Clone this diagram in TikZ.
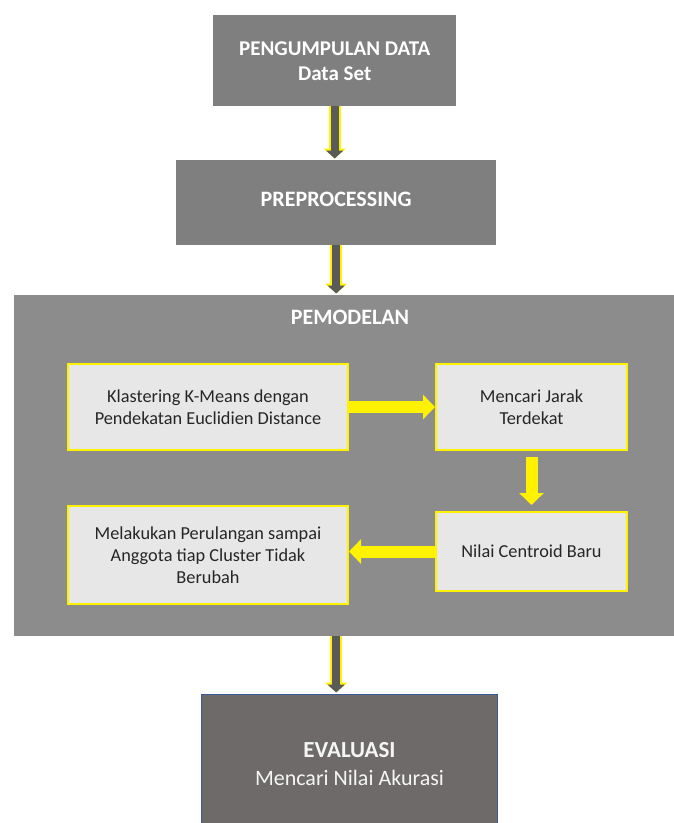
\documentclass[tikz,border=0pt]{standalone}
\usepackage{fontspec}
\setmainfont{Carlito}
\usetikzlibrary{arrows.meta}
\definecolor{stagegray}{HTML}{7F7F7F}
\definecolor{modelgray}{HTML}{8C8C8C}
\definecolor{innerfill}{HTML}{E7E7E7}
\definecolor{edgeyellow}{HTML}{FFF200}
\definecolor{shaftgray}{HTML}{5A5A5A}
\definecolor{evalgray}{HTML}{6E6A6A}
\definecolor{evalblue}{HTML}{3A5A98}
\tikzset{
	stage/.style={fill=stagegray, text=white, align=center, inner sep=0pt,
		anchor=north west, font=\bfseries\fontsize{21}{25}\selectfont},
	inner/.style={fill=innerfill, draw=edgeyellow, line width=2pt, text=black!85,
		align=center, inner sep=0pt, anchor=north west,
		minimum width=280pt, font=\fontsize{18.3}{22}\selectfont},
	flow/.style={draw=edgeyellow, line width=12pt, -{Triangle[length=12pt,width=24pt]}},
	outflow/.style={draw=shaftgray, line width=8pt, shorten >=1.5pt,
		-{Triangle[length=8pt,width=17pt]},
		preaction={draw=edgeyellow, line width=12pt, -{Triangle[length=10pt,width=22pt]}}}
}
\begin{document}
\begin{tikzpicture}[x=1pt,y=-1pt]
	\useasboundingbox (0,0) rectangle (674,823);
	\clip (0,0) rectangle (674,823);
	% main stages
		\node[stage, minimum width=243pt, minimum height=91pt] (data) at (213,15)
			{PENGUMPULAN DATA\\Data Set};
		\node[stage, minimum width=320pt, minimum height=85pt, font=\bfseries\fontsize{22}{25}\selectfont,
			text depth=6pt] (prep) at (176,160)
			{PREPROCESSING};
		\node[fill=modelgray, anchor=north west, minimum width=676pt, minimum height=341pt,
			inner sep=0pt] (model) at (14,295) {};
		\node[text=white, font=\bfseries\fontsize{22}{25}\selectfont] (modeltitle) at (350,317)
			{PEMODELAN};
	% steps of the modelling
		\node[inner, minimum height=86pt] (kmeans) at (67,363)
			{Klastering K-Means dengan\\Pendekatan Euclidien Distance};
		\node[inner, minimum width=191pt, minimum height=86pt] (jarak) at (435,363)
			{Mencari Jarak\\Terdekat};
		\node[inner, minimum width=191pt, minimum height=79pt] (centroid) at (435,511)
			{Nilai Centroid Baru};
		\node[inner, minimum height=98pt] (ulang) at (67,505)
			{Melakukan Perulangan sampai\\Anggota tiap Cluster Tidak\\Berubah};
	% evaluation
		\node[fill=evalgray, draw=evalblue, line width=1pt, anchor=north west,
			minimum width=296pt, minimum height=140pt, inner sep=0pt, align=center,
			text=white!92!gray, font=\fontsize{22}{28}\selectfont] (eval) at (201,694)
			{{\bfseries\fontsize{23}{28}\selectfont EVALUASI}\\Mencari Nilai Akurasi};
	% arrows
		\draw[outflow] (data.south) -- (data.south |- prep.north);
		\draw[outflow] (prep.south) -- (prep.south |- model.north);
		\draw[outflow] (prep.south |- model.south) -- (prep.south |- eval.north);
		\draw[flow] (kmeans.east) -- (jarak.west);
		\draw[flow, shorten <=6pt, shorten >=6pt] (jarak.south) -- (centroid.north);
		\draw[flow] (centroid.west) -- (ulang.east |- centroid.west);
\end{tikzpicture}
\end{document}
